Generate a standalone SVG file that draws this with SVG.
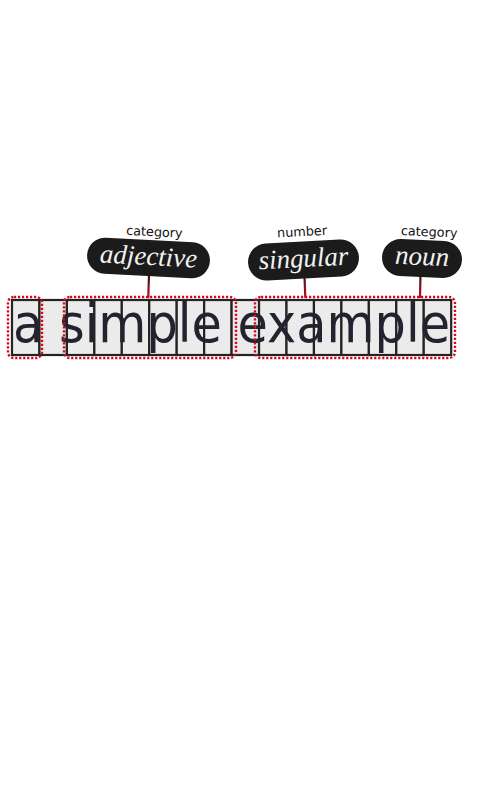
<svg xmlns="http://www.w3.org/2000/svg" width="480" height="800" viewBox="0 0 480 800">
<style>
.cell{fill:#ebebeb;stroke:#232323;stroke-width:2.2}
.word{fill:none;stroke:#d10a1e;stroke-width:2.4;stroke-dasharray:2.2 1.8}
.pill{fill:#1b1b1b}
.val{font-family:"Liberation Serif","Times New Roman",serif;font-style:italic;font-size:27px;fill:#f2f2f2;text-anchor:middle}
.feat{font-family:"DejaVu Sans","Liberation Sans",sans-serif;font-size:12.8px;fill:#111;text-anchor:middle}
.big{font-family:"DejaVu Sans","Liberation Sans",sans-serif;font-size:54px;fill:#23232f}
.conn{stroke:url(#cg);stroke-width:2.2;fill:none}
</style>
<defs>
<linearGradient id="cg" gradientUnits="userSpaceOnUse" x1="0" y1="272" x2="0" y2="298">
<stop offset="0" stop-color="#1b1b1b"/>
<stop offset="1" stop-color="#cc0a1a"/>
</linearGradient>
</defs>
<rect width="480" height="800" fill="#ffffff"/>
<g id="strip">
<rect class="cell" x="12" y="300" width="27.45" height="55"/>
<rect class="cell" x="39.45" y="300" width="27.45" height="55"/>
<rect class="cell" x="66.9" y="300" width="27.45" height="55"/>
<rect class="cell" x="94.35" y="300" width="27.45" height="55"/>
<rect class="cell" x="121.8" y="300" width="27.45" height="55"/>
<rect class="cell" x="149.25" y="300" width="27.45" height="55"/>
<rect class="cell" x="176.7" y="300" width="27.45" height="55"/>
<rect class="cell" x="204.15" y="300" width="27.45" height="55"/>
<rect class="cell" x="231.6" y="300" width="27.45" height="55"/>
<rect class="cell" x="259.05" y="300" width="27.45" height="55"/>
<rect class="cell" x="286.5" y="300" width="27.45" height="55"/>
<rect class="cell" x="313.95" y="300" width="27.45" height="55"/>
<rect class="cell" x="341.4" y="300" width="27.45" height="55"/>
<rect class="cell" x="368.85" y="300" width="27.45" height="55"/>
<rect class="cell" x="396.3" y="300" width="27.45" height="55"/>
<rect class="cell" x="423.75" y="300" width="27.45" height="55"/>
<text class="big" x="13" y="342" textLength="437" lengthAdjust="spacingAndGlyphs">a simple example</text>
</g>
<g id="connectors">
<path class="conn" d="M149 274 L148.3 298"/>
<path class="conn" d="M304.5 276 L305.3 298"/>
<path class="conn" d="M420.5 274 L420 298"/>
</g>
<g id="word-a"><rect class="word" x="8" y="297" width="34" height="61" rx="6"/></g>
<g id="word-simple"><rect class="word" x="64" y="297" width="172" height="61" rx="6"/></g>
<g id="word-example"><rect class="word" x="255" y="297" width="200" height="61" rx="6"/></g>
<g id="adjective" transform="rotate(3 148.5 258)">
<rect class="pill" x="87" y="240" width="123" height="36" rx="18"/>
<text class="val" x="148.5" y="265">adjective</text>
<text class="feat" x="153" y="236">category</text>
</g>
<g id="singular" transform="rotate(-3 303.5 260)">
<rect class="pill" x="248" y="241.5" width="111" height="37" rx="18.5"/>
<text class="val" x="303.5" y="267">singular</text>
<text class="feat" x="303.5" y="236">number</text>
</g>
<g id="noun" transform="rotate(2.5 422 258.5)">
<rect class="pill" x="382" y="240" width="80" height="37" rx="18.5"/>
<text class="val" x="422" y="265">noun</text>
<text class="feat" x="428" y="236">category</text>
</g>
</svg>
